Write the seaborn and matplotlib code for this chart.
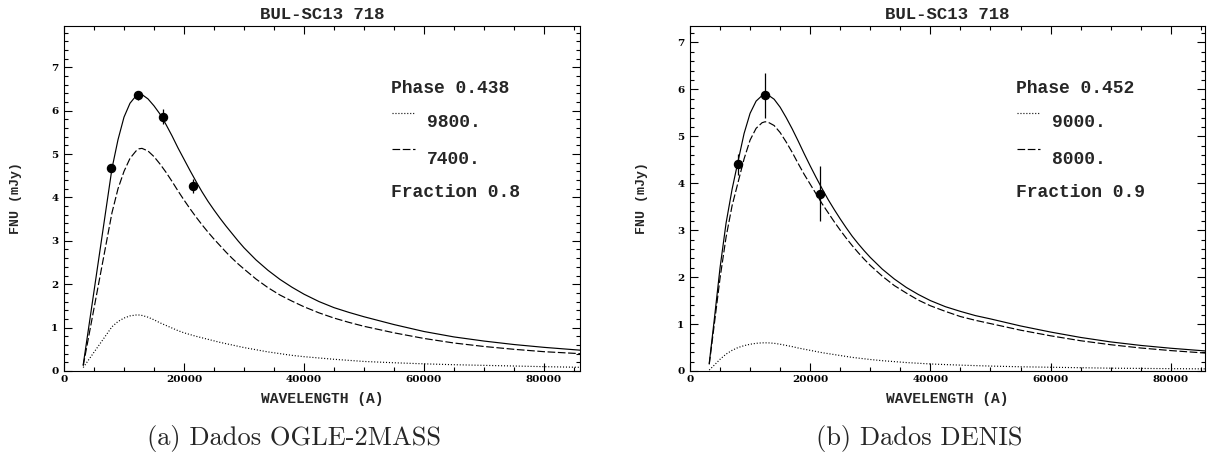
import numpy as np
import pandas as pd
import matplotlib
matplotlib.use("Agg")
import matplotlib.pyplot as plt
import seaborn as sns
from matplotlib.ticker import MultipleLocator

# ---------------- data ----------------
title_text = "BUL-SC13 718"
xlabel_text = "WAVELENGTH (A)"
ylabel_text = "FNU (mJy)"
captions = ["(a) Dados OGLE-2MASS", "(b) Dados DENIS"]

# Panel (a)
phase_a = "Phase 0.438"
temps_a = ["9800.", "7400."]
fraction_a = "Fraction 0.8"
wl_a = [3200, 8000, 9000, 10000, 11000, 12000, 12500, 13000, 14000, 15000,
        16000, 17000, 18000, 19000, 20000, 21000, 22000, 23000, 24000, 25000,
        26000, 27000, 28000, 29000, 30000, 32000, 34000, 36000, 38000, 40000,
        42500, 45000, 47500, 50000, 55000, 60000, 65000, 70000, 75000, 80000,
        86000]
total_a = [0.14, 4.67, 5.33, 5.85, 6.17, 6.34, 6.37, 6.37, 6.27, 6.11,
           5.92, 5.68, 5.42, 5.14, 4.88, 4.62, 4.37, 4.13, 3.91, 3.71,
           3.52, 3.34, 3.17, 3.00, 2.84, 2.56, 2.32, 2.11, 1.93, 1.77,
           1.60, 1.46, 1.35, 1.25, 1.07, 0.91, 0.785, 0.69, 0.61, 0.545,
           0.48]
hot_a = [0.08, 1.02, 1.14, 1.22, 1.27, 1.29, 1.29, 1.28, 1.24, 1.18,
         1.11, 1.05, 0.99, 0.93, 0.88, 0.84, 0.80, 0.765, 0.73, 0.695,
         0.66, 0.63, 0.60, 0.57, 0.54, 0.49, 0.44, 0.40, 0.36, 0.33,
         0.30, 0.27, 0.245, 0.22, 0.19, 0.165, 0.145, 0.13, 0.115, 0.10,
         0.085]
cool_a = [0.12, 3.65, 4.20, 4.60, 4.90, 5.07, 5.12, 5.13, 5.07, 4.94,
          4.77, 4.58, 4.37, 4.15, 3.94, 3.74, 3.55, 3.37, 3.20, 3.04,
          2.89, 2.74, 2.60, 2.47, 2.35, 2.12, 1.92, 1.75, 1.61, 1.48,
          1.34, 1.22, 1.12, 1.03, 0.88, 0.75, 0.645, 0.565, 0.50, 0.445,
          0.40]
obs_wl_a = [7900, 12400, 16550, 21500]
obs_f_a = [4.67, 6.35, 5.86, 4.27]
obs_err_a = [0.05, 0.10, 0.17, 0.16]

# Panel (b)
phase_b = "Phase 0.452"
temps_b = ["9000.", "8000."]
fraction_b = "Fraction 0.9"
wl_b = [3200, 4000, 5000, 6000, 7000, 8000, 9000, 10000, 11000, 12000,
        12500, 13000, 14000, 15000, 16000, 17000, 18000, 19000, 20000, 21000,
        22000, 23000, 24000, 25000, 26000, 27000, 28000, 29000, 30000, 32000,
        34000, 36000, 38000, 40000, 42500, 45000, 47500, 50000, 55000, 60000,
        65000, 70000, 75000, 80000, 86000]
total_b = [0.16, 1.05, 2.20, 3.15, 3.87, 4.47, 5.06, 5.49, 5.75, 5.87,
           5.89, 5.88, 5.79, 5.62, 5.40, 5.16, 4.90, 4.63, 4.37, 4.12,
           3.88, 3.65, 3.44, 3.24, 3.05, 2.87, 2.71, 2.56, 2.42, 2.17,
           1.96, 1.78, 1.63, 1.50, 1.37, 1.27, 1.18, 1.11, 0.96, 0.83,
           0.715, 0.62, 0.545, 0.485, 0.425]
hot_b = [0.02, 0.12, 0.25, 0.36, 0.44, 0.50, 0.54, 0.57, 0.59, 0.60,
         0.60, 0.60, 0.59, 0.57, 0.545, 0.52, 0.49, 0.465, 0.44, 0.415,
         0.39, 0.37, 0.35, 0.33, 0.31, 0.29, 0.275, 0.26, 0.245, 0.22,
         0.20, 0.18, 0.165, 0.15, 0.137, 0.125, 0.115, 0.105, 0.09, 0.08,
         0.07, 0.06, 0.055, 0.05, 0.045]
cool_b = [0.14, 0.95, 1.98, 2.85, 3.52, 4.02, 4.52, 4.92, 5.17, 5.29,
          5.31, 5.30, 5.23, 5.08, 4.88, 4.66, 4.42, 4.19, 3.98, 3.77,
          3.56, 3.37, 3.18, 3.00, 2.83, 2.67, 2.52, 2.38, 2.25, 2.02,
          1.82, 1.66, 1.51, 1.39, 1.27, 1.16, 1.08, 1.01, 0.87, 0.75,
          0.645, 0.56, 0.49, 0.435, 0.38]
obs_wl_b = [7930, 12400, 21550]
obs_f_b = [4.40, 5.87, 3.78]
obs_err_b = [0.22, 0.48, 0.59]

# ---------------- style ----------------
sns.set_style("ticks")
plt.rcParams["font.family"] = ["DejaVu Serif"]
MONO = ["Liberation Mono", "DejaVu Sans Mono"]

LW = 0.85
DASHED = (0, (6.5, 2.2))
DOTTED = (0, (0.9, 1.6))

fig = plt.figure(figsize=(12.08, 4.57), dpi=100)
W, H = 1208.0, 457.0
ax_a = fig.add_axes([64 / W, 86 / H, 516 / W, 345 / H])
ax_b = fig.add_axes([690 / W, 86 / H, 515 / W, 345 / H])


def draw_panel(ax, wl, total, hot, cool, owl, of, oerr, ymax, xmax,
               phase, temps, fraction):
    df = pd.DataFrame({"wl": wl, "total": total, "hot": hot, "cool": cool})
    sns.lineplot(data=df, x="wl", y="hot", ax=ax, color="black", lw=LW,
                 linestyle=DOTTED, estimator=None, sort=True)
    sns.lineplot(data=df, x="wl", y="cool", ax=ax, color="black", lw=LW,
                 linestyle=DASHED, estimator=None, sort=True)
    sns.lineplot(data=df, x="wl", y="total", ax=ax, color="black", lw=LW,
                 linestyle="-", estimator=None, sort=True)
    ax.errorbar(owl, of, yerr=oerr, fmt="o", color="black", ms=5.8,
                elinewidth=0.9, capsize=0, zorder=5)

    ax.set_xlim(0, xmax)
    ax.set_ylim(0, ymax)
    ax.xaxis.set_major_locator(MultipleLocator(20000))
    ax.xaxis.set_minor_locator(MultipleLocator(5000))
    ax.yaxis.set_major_locator(MultipleLocator(1))
    ax.yaxis.set_minor_locator(MultipleLocator(0.2))
    ax.tick_params(which="both", direction="in", top=True, right=True,
                   width=0.8, colors="black")
    ax.tick_params(which="major", length=5.5)
    ax.tick_params(which="minor", length=3.0)
    ax.tick_params(axis="x", pad=3)
    ax.tick_params(axis="y", pad=4)
    for lab in ax.get_xticklabels() + ax.get_yticklabels():
        lab.set_fontsize(7.5)
        lab.set_fontweight("bold")
        lab.set_family("DejaVu Serif")
    for sp in ax.spines.values():
        sp.set_visible(True)
        sp.set_linewidth(0.8)
        sp.set_color("black")

    ax.set_xlabel(xlabel_text, family=MONO, fontsize=10.5, fontweight="bold",
                  va="center")
    ax.xaxis.set_label_coords(0.5, -0.08)
    ax.set_ylabel(ylabel_text, family=MONO, fontsize=9.5, fontweight="bold",
                  va="center")
    ax.yaxis.set_label_coords(-0.093, 0.5)

    ax.text(0.5, 1.033, title_text, transform=ax.transAxes, ha="center",
            va="center", family=MONO, fontsize=12.5, fontweight="bold")

    tkw = dict(transform=ax.transAxes, ha="left", va="center", family=MONO,
               fontsize=13, fontweight="bold")
    ax.text(0.633, 0.82, phase, **tkw)
    ax.plot([0.635, 0.68], [0.748, 0.748], transform=ax.transAxes,
            color="black", lw=LW, linestyle=DOTTED)
    ax.text(0.703, 0.719, temps[0], **tkw)
    ax.plot([0.635, 0.68], [0.643, 0.643], transform=ax.transAxes,
            color="black", lw=LW, linestyle=DASHED)
    ax.text(0.703, 0.612, temps[1], **tkw)
    ax.text(0.633, 0.518, fraction, **tkw)


draw_panel(ax_a, wl_a, total_a, hot_a, cool_a, obs_wl_a, obs_f_a, obs_err_a,
           7.95, 86000, phase_a, temps_a, fraction_a)
draw_panel(ax_b, wl_b, total_b, hot_b, cool_b, obs_wl_b, obs_f_b, obs_err_b,
           7.35, 85700, phase_b, temps_b, fraction_b)

fig.text(294 / W, 1 - 439 / H, captions[0], family="cmr10", fontsize=19,
         ha="center", va="center")
fig.text(919 / W, 1 - 439 / H, captions[1], family="cmr10", fontsize=19,
         ha="center", va="center")

fig.savefig("out.png", dpi=100)
